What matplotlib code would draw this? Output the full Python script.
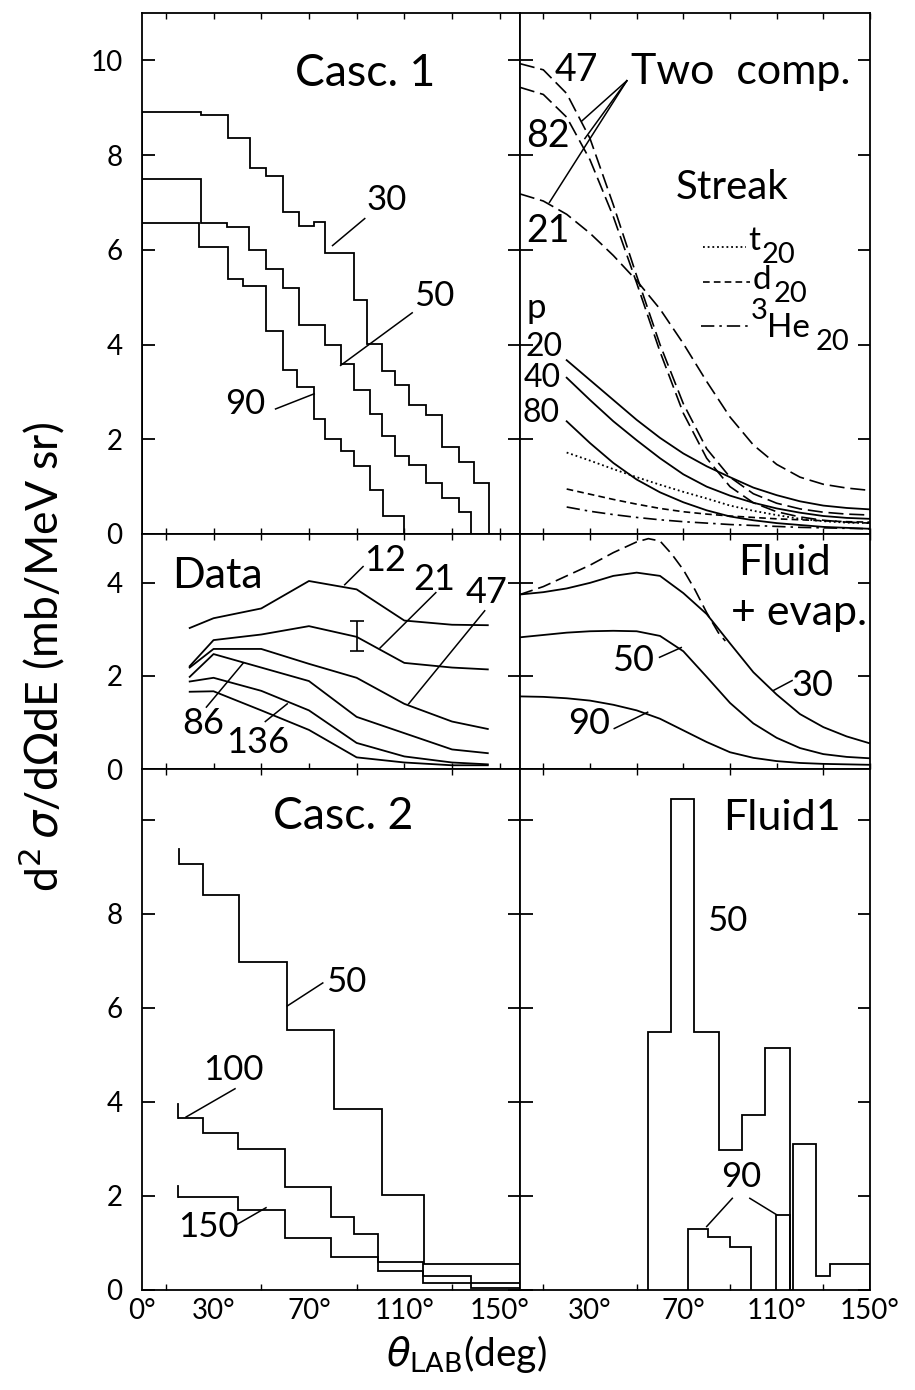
import matplotlib
matplotlib.use("Agg")
import matplotlib.pyplot as plt

plt.rcParams["font.family"] = ["Lato", "DejaVu Sans"]
plt.rcParams["mathtext.fontset"] = "dejavusans"

LW = 1.3

# ---------------- Casc. 1 (top left), histogram bin edges in deg
casc1_30_edges = [0, 24.9, 36.2, 45.1, 52.1, 59.2, 65.9, 72.0, 76.9, 88.8, 94.4, 100.8,
                  106.2, 111.8, 118.9, 126.0, 133.1, 139.4, 145.5]
casc1_30_vals = [8.92, 8.84, 8.37, 7.73, 7.56, 6.79, 6.51, 6.59, 5.93, 4.93, 4.01, 3.44,
                 3.14, 2.72, 2.51, 1.83, 1.53, 1.07]
casc1_50_edges = [0, 24.9, 35.7, 44.7, 52.1, 59.2, 65.9, 76.9, 83.3, 88.8, 95.6, 100.8,
                  106.2, 111.8, 118.9, 126.0, 133.1, 138.0]
casc1_50_vals = [7.5, 6.57, 6.49, 6.0, 5.6, 5.2, 4.42, 3.99, 3.58, 3.03, 2.53, 2.07,
                 1.64, 1.46, 1.07, 0.75, 0.46]
casc1_90_edges = [0, 24.1, 36.2, 42.5, 52.1, 59.2, 65.2, 72.0, 76.9, 83.3, 88.8, 95.6,
                  101.2, 109.7]
casc1_90_vals = [6.57, 6.07, 5.38, 5.24, 4.29, 3.47, 3.11, 2.42, 2.0, 1.76, 1.44, 0.93, 0.38]

# ---------------- Two comp. / Streak (top right)
two_angles = [0, 10, 20, 30, 40, 50, 60, 70, 80, 90, 100, 110, 120, 130, 140, 150]
two_47 = [9.93, 9.8, 9.3, 8.35, 6.95, 5.45, 4.0, 2.75, 1.8, 1.2, 0.85, 0.65, 0.53, 0.46, 0.42, 0.4]
two_82 = [9.43, 9.28, 8.8, 7.9, 6.7, 5.3, 3.85, 2.55, 1.6, 1.0, 0.66, 0.47, 0.36, 0.29, 0.25, 0.23]
two_21 = [7.18, 7.03, 6.75, 6.35, 5.88, 5.35, 4.75, 4.02, 3.22, 2.47, 1.88, 1.47, 1.2, 1.05, 0.97, 0.92]

streak_angles = [20, 30, 40, 50, 60, 70, 80, 90, 100, 110, 120, 130, 140, 150]
p20 = [3.67, 3.25, 2.83, 2.41, 2.03, 1.7, 1.43, 1.2, 0.98, 0.82, 0.69, 0.6, 0.55, 0.52]
p40 = [3.3, 2.83, 2.38, 1.98, 1.6, 1.26, 1.0, 0.81, 0.66, 0.54, 0.45, 0.38, 0.34, 0.32]
p80 = [2.38, 1.92, 1.5, 1.15, 0.88, 0.67, 0.5, 0.37, 0.29, 0.23, 0.19, 0.15, 0.13, 0.11]
t20 = [1.72, 1.55, 1.37, 1.2, 1.04, 0.89, 0.75, 0.6, 0.49, 0.4, 0.32, 0.27, 0.24, 0.23]
d20 = [0.95, 0.84, 0.73, 0.63, 0.54, 0.47, 0.42, 0.38, 0.35, 0.32, 0.3, 0.28, 0.26, 0.25]
he20 = [0.57, 0.48, 0.41, 0.35, 0.3, 0.26, 0.23, 0.2, 0.18, 0.16, 0.14, 0.13, 0.12, 0.11]

# ---------------- Data (middle left)
data_angles = [20, 30, 50, 70, 90, 110, 130, 145]
data_12 = [3.03, 3.24, 3.45, 4.04, 3.86, 3.19, 3.10, 3.09]
data_21 = [2.21, 2.77, 2.89, 3.07, 2.84, 2.28, 2.18, 2.14]
data_47 = [2.18, 2.58, 2.58, 2.26, 1.96, 1.40, 1.02, 0.86]
data_86 = [1.98, 2.47, 2.18, 1.89, 1.12, 0.77, 0.42, 0.34]
data_x = [1.88, 1.96, 1.68, 1.26, 0.56, 0.27, 0.14, 0.10]
data_136 = [1.66, 1.67, 1.26, 0.84, 0.25, 0.14, 0.08, 0.08]

# ---------------- Fluid + evap. (middle right)
fe_angles = [0, 10, 20, 30, 40, 50, 60, 70, 80, 90, 100, 110, 120, 130, 140, 150]
fe_30 = [3.75, 3.8, 3.88, 4.0, 4.15, 4.22, 4.15, 3.78, 3.33, 2.7, 2.08, 1.6, 1.18, 0.9, 0.7, 0.55]
fe_50 = [2.83, 2.88, 2.93, 2.96, 2.97, 2.96, 2.86, 2.53, 1.98, 1.42, 0.98, 0.67, 0.45, 0.32, 0.26, 0.23]
fe_90 = [1.56, 1.55, 1.52, 1.47, 1.38, 1.26, 1.08, 0.83, 0.58, 0.36, 0.24, 0.17, 0.13, 0.11, 0.1, 0.09]
fe_dash_angles = [0, 10, 20, 30, 40, 50, 55, 60, 65, 70, 75, 80, 85, 88]
fe_dash = [3.75, 3.92, 4.15, 4.38, 4.65, 4.88, 4.95, 4.9, 4.62, 4.28, 3.85, 3.36, 2.93, 2.75]

# ---------------- Casc. 2 (bottom left)
casc2_50_edges = [15.7, 25.6, 40.8, 60.6, 80.4, 100.8, 118.4, 158.5]
casc2_50_vals = [9.05, 8.39, 6.98, 5.54, 3.84, 2.02, 0.55]
casc2_50_start = 9.37
casc2_100_edges = [15.2, 25.5, 40.3, 59.8, 79.3, 89.0, 99.0, 118.0, 138.0, 158.5]
casc2_100_vals = [3.65, 3.33, 3.0, 2.18, 1.55, 1.2, 0.6, 0.3, 0.15]
casc2_100_start = 3.95
casc2_150_edges = [15.2, 40.3, 59.8, 79.3, 99.0, 118.0, 138.0, 158.5]
casc2_150_vals = [1.98, 1.7, 1.1, 0.7, 0.4, 0.15, 0.05]
casc2_150_start = 2.21

# ---------------- Fluid1 (bottom right)
fl_50_edges = [54.7, 64.8, 74.5, 85.4, 95.0, 105.1, 115.5]
fl_50_vals = [5.48, 10.44, 5.48, 2.98, 3.72, 5.15]
fl_50b_edges = [117.2, 127.0, 133.0, 150.0]
fl_50b_vals = [3.1, 0.3, 0.55]
fl_90_edges = [72.0, 80.5, 90.0, 99.0]
fl_90_vals = [1.3, 1.12, 0.92]
fl_90b_edges = [109.5, 115.5]
fl_90b_vals = [1.6]

W, H = 915, 1390
fig = plt.figure(figsize=(W / 100, H / 100), dpi=100)


def make_ax(x0, x1, y0, y1, xmax, ymax, yticks):
    ax = fig.add_axes([x0 / W, 1 - y1 / H, (x1 - x0) / W, (y1 - y0) / H])
    for s in ax.spines.values():
        s.set_linewidth(LW)
    ax.set_yticks(yticks)
    ax.set_xticks([])
    ax.set_xticks(list(range(10, 160, 20)), minor=True)
    ax.tick_params(axis="y", which="major", direction="in", left=True, right=True,
                   length=9, width=LW, labelsize=20, pad=14)
    ax.tick_params(axis="x", which="minor", direction="in", top=True, bottom=True,
                   length=4, width=1.0)
    ax.tick_params(axis="x", which="major", length=0, labelsize=20, pad=6)
    ax.set_xlim(0, xmax)
    ax.set_ylim(0, ymax)
    return ax


full_ticks = [0, 2, 4, 6, 8, 10]
ax1 = make_ax(142, 520, 13, 534, 158.5, 11.0, full_ticks)
ax2 = make_ax(520, 870, 13, 534, 150, 11.0, full_ticks)
ax3 = make_ax(142, 520, 534, 769, 158.5, 5.05, [0, 2, 4])
ax4 = make_ax(520, 870, 534, 769, 150, 5.05, [0, 2, 4])
ax5 = make_ax(142, 520, 769, 1290, 158.5, 11.08, full_ticks)
ax6 = make_ax(520, 870, 769, 1290, 150, 11.08, full_ticks)

ax1.set_yticklabels(["0", "2", "4", "6", "8", "10"])
ax3.set_yticklabels(["0", "2", "4"])
ax5.set_yticklabels(["0", "2", "4", "6", "8", ""])
for ax in (ax2, ax4, ax6):
    ax.set_yticklabels([])
ax5.set_xticks([0, 30, 70, 110, 150])
ax5.set_xticklabels(["0°", "30°", "70°", "110°", "150°"])
ax6.set_xticks([30, 70, 110, 150])
ax6.set_xticklabels(["30°", "70°", "110°", "150°"])
ax5.set_xlim(0, 158.5)
ax6.set_xlim(0, 150)


def leader(ax, x0, y0, x1, y1):
    ax.plot([x0, x1], [y0, y1], color="k", lw=1.1)


kw = dict(color="k", lw=LW)

# Casc. 1
ax1.stairs(casc1_30_vals, casc1_30_edges, baseline=0, **kw)
ax1.stairs(casc1_50_vals, casc1_50_edges, baseline=0, **kw)
ax1.stairs(casc1_90_vals, casc1_90_edges, baseline=0, **kw)
ax1.text(93.5, 9.73, "Casc. 1", fontsize=32, ha="center", va="center")
ax1.text(94, 7.06, "30", fontsize=25, ha="left", va="center")
leader(ax1, 79.9, 6.09, 93.4, 6.66)
ax1.text(114, 5.02, "50", fontsize=25, ha="left", va="center")
leader(ax1, 83.3, 3.56, 113.3, 4.67)
ax1.text(43.2, 2.74, "90", fontsize=25, ha="center", va="center")
leader(ax1, 56, 2.64, 72.2, 2.96)

# Two comp. / Streak
dash_long = dict(color="k", lw=1.2, dashes=(9, 3.5))
dotted = dict(color="k", lw=1.3, dashes=(1, 1.6))
dash_short = dict(color="k", lw=1.2, dashes=(4, 2.5))
dash_dot = dict(color="k", lw=1.2, dashes=(8, 3, 1.5, 3))
ax2.plot(two_angles, two_47, **dash_long)
ax2.plot(two_angles, two_82, **dash_long)
ax2.plot(two_angles, two_21, **dash_long)
ax2.plot(streak_angles, p20, **kw)
ax2.plot(streak_angles, p40, **kw)
ax2.plot(streak_angles, p80, **kw)
ax2.plot(streak_angles, t20, **dotted)
ax2.plot(streak_angles, d20, **dash_short)
ax2.plot(streak_angles, he20, **dash_dot)
ax2.text(24, 9.8, "47", fontsize=27, ha="center", va="center")
ax2.text(11.8, 8.4, "82", fontsize=27, ha="center", va="center")
ax2.text(11.8, 6.4, "21", fontsize=27, ha="center", va="center")
ax2.text(47.5, 9.75, "Two  comp.", fontsize=31, ha="left", va="center")
leader(ax2, 45.8, 9.57, 26.5, 8.72)
leader(ax2, 45.8, 9.57, 27.8, 8.35)
leader(ax2, 45.8, 9.57, 12.6, 7.0)
ax2.text(91, 7.32, "Streak", fontsize=29, ha="center", va="center")
ax2.plot([78.3, 97], [6.07, 6.07], **dotted)
ax2.text(100.3, 6.18, "t", fontsize=24, ha="center", va="center")
ax2.text(103.5, 5.9, "20", fontsize=21, ha="left", va="center")
ax2.plot([78.3, 98.5], [5.31, 5.31], **dash_short)
ax2.text(103.8, 5.36, "d", fontsize=24, ha="center", va="center")
ax2.text(108.5, 5.07, "20", fontsize=21, ha="left", va="center")
ax2.plot([77.5, 97.7], [4.4, 4.4], **dash_dot)
ax2.text(102.4, 4.7, "3", fontsize=21, ha="center", va="center")
ax2.text(106, 4.34, "He", fontsize=24, ha="left", va="center")
ax2.text(126.5, 4.05, "20", fontsize=21, ha="left", va="center")
ax2.text(6.8, 4.77, "p", fontsize=25, ha="center", va="center")
ax2.text(10.4, 3.94, "20", fontsize=23, ha="center", va="center")
ax2.text(9.7, 3.29, "40", fontsize=23, ha="center", va="center")
ax2.text(9.0, 2.56, "80", fontsize=23, ha="center", va="center")

# Data
for vals in (data_12, data_21, data_47, data_86, data_x, data_136):
    ax3.plot(data_angles, vals, **kw)
ax3.errorbar([90.3], [2.86], yerr=[0.33], color="k", lw=1.2, capsize=5, capthick=1.2)
ax3.text(12.8, 4.14, "Data", fontsize=31, ha="left", va="center")
ax3.text(101.9, 4.49, "12", fontsize=26, ha="center", va="center")
leader(ax3, 85, 3.96, 92.7, 4.35)
ax3.text(122.7, 4.07, "21", fontsize=26, ha="center", va="center")
leader(ax3, 99.8, 2.6, 123.2, 3.79)
ax3.text(144.4, 3.79, "47", fontsize=26, ha="center", va="center")
leader(ax3, 111.8, 1.4, 143.7, 3.4)
ax3.text(25.8, 0.98, "86", fontsize=26, ha="center", va="center")
leader(ax3, 27, 1.33, 42.5, 2.28)
ax3.text(48.5, 0.56, "136", fontsize=26, ha="center", va="center")
leader(ax3, 51.7, 1.02, 60.9, 1.40)

# Fluid + evap.
ax4.plot(fe_dash_angles, fe_dash, color="k", lw=1.2, dashes=(8, 3.5))
ax4.plot(fe_angles, fe_30, **kw)
ax4.plot(fe_angles, fe_50, **kw)
ax4.plot(fe_angles, fe_90, **kw)
ax4.text(113.3, 4.43, "Fluid", fontsize=31, ha="center", va="center")
ax4.text(119.8, 3.36, "+ evap.", fontsize=31, ha="center", va="center")
ax4.text(48.3, 2.33, "50", fontsize=26, ha="center", va="center")
leader(ax4, 59.8, 2.4, 69.1, 2.61)
ax4.text(125.5, 1.79, "30", fontsize=26, ha="center", va="center")
leader(ax4, 108.7, 1.69, 116.6, 1.9)
ax4.text(29.6, 0.98, "90", fontsize=26, ha="center", va="center")
leader(ax4, 40.4, 0.87, 54.7, 1.22)

# Casc. 2
for edges, vals, start in ((casc2_50_edges, casc2_50_vals, casc2_50_start),
                           (casc2_100_edges, casc2_100_vals, casc2_100_start),
                           (casc2_150_edges, casc2_150_vals, casc2_150_start)):
    ax5.stairs(vals, edges, baseline=None, **kw)
    ax5.plot([edges[0], edges[0]], [start, vals[0]], **kw)
ax5.text(84.3, 10.07, "Casc. 2", fontsize=32, ha="center", va="center")
ax5.text(85.7, 6.56, "50", fontsize=25, ha="center", va="center")
leader(ax5, 60.9, 6.04, 75.8, 6.53)
ax5.text(38.3, 4.67, "100", fontsize=25, ha="center", va="center")
leader(ax5, 39, 4.28, 18.5, 3.68)
ax5.text(28, 1.35, "150", fontsize=25, ha="center", va="center")
leader(ax5, 40, 1.4, 52, 1.75)

# Fluid1
ax6.stairs(fl_50_vals, fl_50_edges, baseline=0, **kw)
ax6.stairs(fl_50b_vals, fl_50b_edges, baseline=0, **kw)
ax6.stairs(fl_90_vals, fl_90_edges, baseline=0, **kw)
ax6.stairs(fl_90b_vals, fl_90b_edges, baseline=0, **kw)
ax6.text(112.3, 10.04, "Fluid1", fontsize=31, ha="center", va="center")
ax6.text(88.6, 7.85, "50", fontsize=25, ha="center", va="center")
ax6.text(94.7, 2.41, "90", fontsize=25, ha="center", va="center")
leader(ax6, 91, 1.95, 80, 1.35)
leader(ax6, 98.5, 1.95, 110, 1.6)

fig.text(0.045, 0.527, r"d$^2\,\sigma$/d$\Omega$dE (mb/MeV sr)", rotation=90,
         fontsize=32, ha="center", va="center")
fig.text(0.51, 0.026, r"$\theta_{\rm LAB}$(deg)", fontsize=28, ha="center", va="center")

fig.savefig("out.png", dpi=100)
